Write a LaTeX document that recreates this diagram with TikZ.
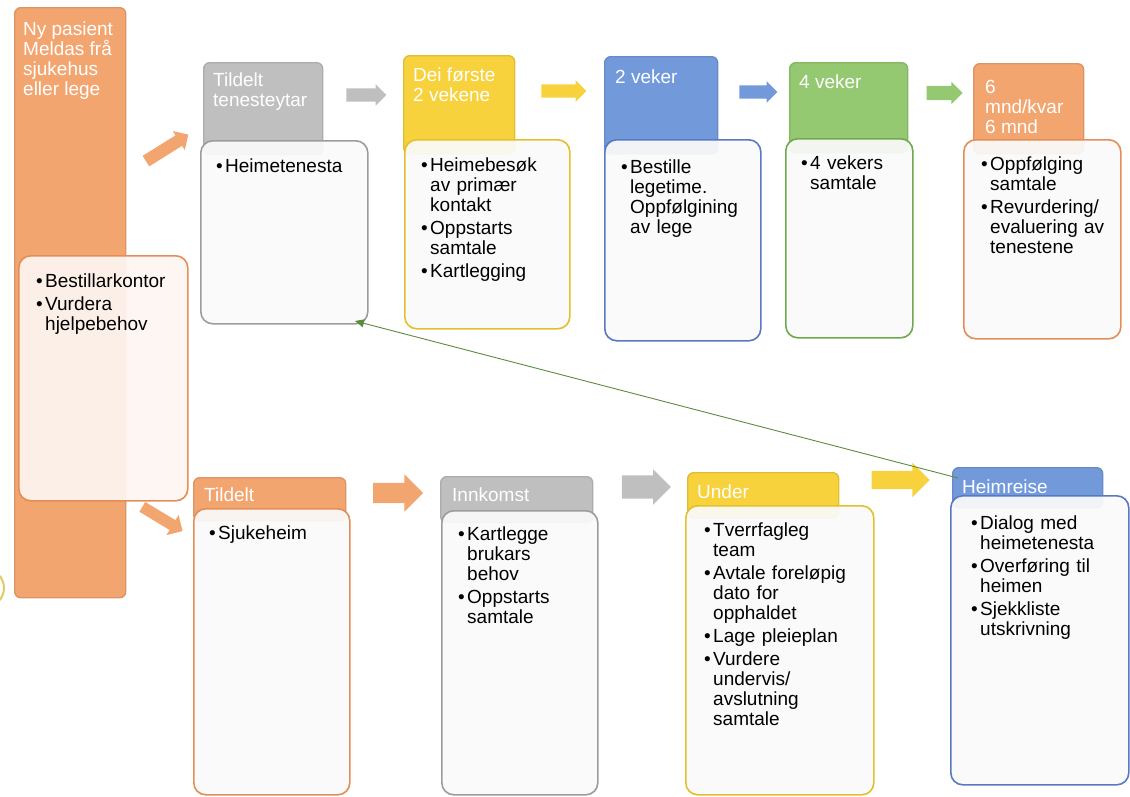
\documentclass[tikz,border=0pt]{standalone}
\usepackage{fontspec}
\setmainfont{Liberation Sans}
\usetikzlibrary{shapes.arrows,arrows.meta}
\definecolor{cOr}{HTML}{F3A570}
\definecolor{cOrD}{HTML}{E38D57}
\definecolor{cGr}{HTML}{BFBFBF}
\definecolor{cGrD}{HTML}{9C9C9C}
\definecolor{cYe}{HTML}{F8D23C}
\definecolor{cYeD}{HTML}{E3C02B}
\definecolor{cBl}{HTML}{729ADB}
\definecolor{cBlD}{HTML}{5879C2}
\definecolor{cGn}{HTML}{94C971}
\definecolor{cGnD}{HTML}{6FA94F}
\definecolor{cBody}{HTML}{FBFAFA}
\definecolor{cBodyOr}{HTML}{FDF5F1}
\definecolor{cLine}{HTML}{5B8C3E}
\definecolor{cRing}{HTML}{E2CB62}
\newcommand\stagefont{\fontsize{19}{20}\selectfont}
\newcommand\bitem[1]{\hangindent=9pt\hangafter=1\noindent\makebox[9pt][l]{•}#1\par}
\begin{document}
\begin{tikzpicture}[x=1pt,y=-1pt,
 hdr/.style={rectangle, rounded corners=6pt, anchor=north west, inner sep=0pt, fill=#1, draw=#1!90!black, line width=1.4pt},
 bodybox/.style={rectangle, rounded corners=12pt, anchor=north west, inner sep=0pt, fill=cBody, fill opacity=0.93, draw=#1, line width=1.6pt},
 htext/.style={anchor=north west, inner sep=0pt, text=white, font=\stagefont, align=left},
 btext/.style={anchor=north west, inner sep=0pt, text=black, font=\stagefont\setlength{\parskip}{3pt}, text width=200pt, align=left},
 barrow/.style={single arrow, single arrow head indent=0pt, draw=none, fill=#1, inner xsep=0pt, anchor=center},
]
\useasboundingbox (0,0) rectangle (1130,796);

% partial ring at the left edge
\draw[cRing, line width=2pt] (-15,588) circle (19pt);

% left column
\node[hdr=cOr, minimum width=111pt, minimum height=590pt] (bar) at (14,7) {};
\node[bodybox=cOrD, fill=cBodyOr, minimum width=169pt, minimum height=245pt] (best) at (18,255) {};

% top row headers
\node[hdr=cGr, minimum width=119pt, minimum height=92pt] (th1) at (203,62) {};
\node[hdr=cYe, minimum width=111pt, minimum height=98pt] (th2) at (403,55) {};
\node[hdr=cBl, minimum width=113pt, minimum height=97pt] (th3) at (604,56) {};
\node[hdr=cGn, minimum width=118pt, minimum height=90pt] (th4) at (789,62) {};
\node[hdr=cOr, minimum width=110pt, minimum height=90pt] (th5) at (973,63) {};
% top row bodies
\node[bodybox=cGrD, minimum width=167pt, minimum height=183pt] (tb1) at (200,140) {};
\node[bodybox=cYeD, minimum width=165pt, minimum height=189pt] (tb2) at (404,139) {};
\node[bodybox=cBlD, minimum width=156pt, minimum height=201pt] (tb3) at (604,139) {};
\node[bodybox=cGnD, minimum width=127pt, minimum height=199pt] (tb4) at (785,138) {};
\node[bodybox=cOrD, minimum width=157pt, minimum height=199pt] (tb5) at (963,139) {};

% bottom row headers
\node[hdr=cOr, minimum width=152pt, minimum height=43pt] (bh1) at (193,477) {};
\node[hdr=cGr, minimum width=152pt, minimum height=46pt] (bh2) at (440,476) {};
\node[hdr=cYe, minimum width=151pt, minimum height=45pt] (bh3) at (687,472) {};
\node[hdr=cBl, minimum width=150pt, minimum height=40pt] (bh4) at (952,467) {};
% bottom row bodies
\node[bodybox=cOrD, minimum width=156pt, minimum height=286pt] (bb1) at (193,508) {};
\node[bodybox=cGrD, minimum width=156pt, minimum height=284pt] (bb2) at (441,510) {};
\node[bodybox=cYeD, minimum width=188pt, minimum height=289pt] (bb3) at (685,505) {};
\node[bodybox=cBlD, minimum width=178pt, minimum height=289pt] (bb4) at (950,495) {};

% block arrows
\node[barrow=cOr, inner ysep=6pt, single arrow head extend=5pt, minimum height=50pt, rotate=32] (a0) at (164.5,149.5) {};
\node[barrow=cOr, inner ysep=5.5pt, single arrow head extend=6pt, minimum height=47pt, rotate=-31] (a00) at (160,517.5) {};
\node[barrow=cGr, inner ysep=6.5pt, single arrow head extend=4pt, minimum height=40pt] (a1) at (363,95) {};
\node[barrow=cYe, inner ysep=6.5pt, single arrow head extend=4pt, minimum height=45pt] (a2) at (560.5,91) {};
\node[barrow=cBl, inner ysep=6.5pt, single arrow head extend=4pt, minimum height=38pt] (a3) at (755,92) {};
\node[barrow=cGn, inner ysep=7pt, single arrow head extend=4pt, minimum height=36pt] (a4) at (941,93) {};
\node[barrow=cOr, inner ysep=10pt, single arrow head extend=8.5pt, minimum height=50pt] (a5) at (393,493) {};
\node[barrow=cGr, inner ysep=11.5pt, single arrow head extend=6pt, minimum height=49pt] (a6) at (640.5,487) {};
\node[barrow=cYe, inner ysep=9pt, single arrow head extend=8pt, minimum height=58pt] (a7) at (896,480) {};

% header texts
\node[htext] (bart) at (23,22) {Ny pasient\\Meldas frå\\sjukehus\\eller lege};
\node[htext] (th1t) at (213,73) {Tildelt\\tenesteytar};
\node[htext] (th2t) at (413,68) {Dei første\\2 vekene};
\node[htext] (th3t) at (615,70) {2 veker};
\node[htext] (th4t) at (799,75) {4 veker};
\node[htext] (th5t) at (985,80) {6\\mnd/kvar\\6 mnd};
\node[htext] (bh1t) at (204,488) {Tildelt};
\node[htext] (bh2t) at (452,488) {Innkomst};
\node[htext] (bh3t) at (697,485) {Under};
\node[htext] (bh4t) at (962,480) {Heimreise};

% body texts
\node[btext] (bestt) at (36,274) {\bitem{Bestillarkontor}\bitem{Vurdera\newline hjelpebehov}};
\node[btext] (tb1t) at (216,159) {\bitem{Heimetenesta}};
\node[btext] (tb2t) at (421,158) {\bitem{Heimebesøk\newline av primær\newline kontakt}\bitem{Oppstarts\newline samtale}\bitem{Kartlegging}};
\node[btext] (tb3t) at (621,160) {\bitem{Bestille\newline legetime.\newline Oppfølgining\newline av lege}};
\node[btext] (tb4t) at (801,156) {\bitem{4 vekers\newline samtale}};
\node[btext] (tb5t) at (981,157) {\bitem{Oppfølging\newline samtale}\bitem{Revurdering/\newline evaluering av\newline tenestene}};
\node[btext] (bb1t) at (209,526) {\bitem{Sjukeheim}};
\node[btext] (bb2t) at (458,527) {\bitem{Kartlegge\newline brukars\newline behov}\bitem{Oppstarts\newline samtale}};
\node[btext] (bb3t) at (704,523) {\bitem{Tverrfagleg\newline team}\bitem{Avtale foreløpig\newline dato for\newline opphaldet}\bitem{Lage pleieplan}\bitem{Vurdere\newline undervis/\newline avslutning\newline samtale}};
\node[btext] (bb4t) at (971,516) {\bitem{Dialog med\newline heimetenesta}\bitem{Overføring til\newline heimen}\bitem{Sjekkliste\newline utskrivning}};

% feedback connector
\coordinate (gs) at (958,478);
\coordinate (ge) at (355,321);
\draw[cLine, line width=0.9pt, -{Triangle[length=9pt,width=8pt]}] (gs) -- (ge);
\end{tikzpicture}
\end{document}
